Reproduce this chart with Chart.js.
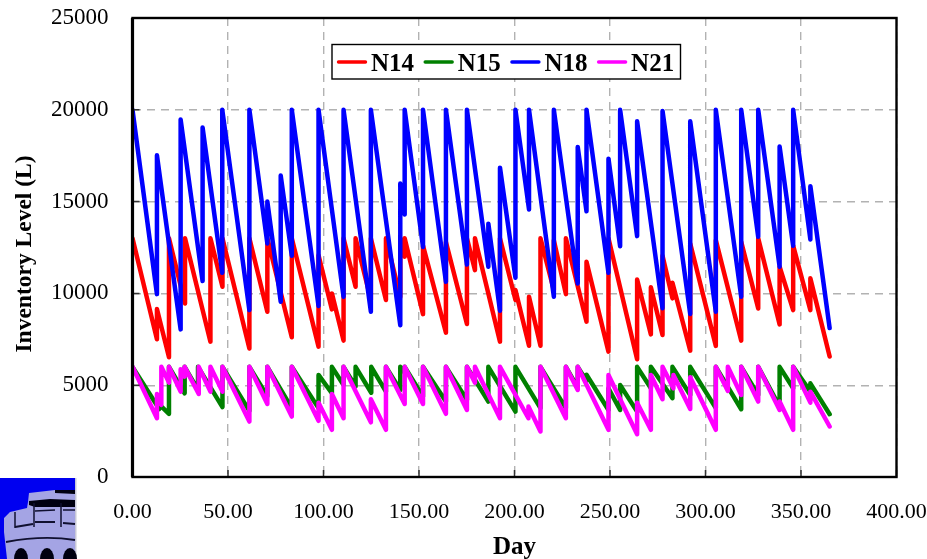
<!DOCTYPE html>
<html>
<head>
<meta charset="utf-8">
<title>Inventory Level</title>
<script src="https://cdn.jsdelivr.net/npm/chart.js@4"></script>
<style>
    html, body { margin: 0; padding: 0; background: #fff; }
    canvas { display: block; }
</style>
</head>
<body>
<canvas id="myChart" width="927" height="559"></canvas>
<script>
// Values: each refill shows up as the same day twice (low, then high)
const xTicks = [0, 50, 100, 150, 200, 250, 300, 350, 400];
const yTicks = [0, 5000, 10000, 15000, 20000, 25000];
const seriesNames = ['N14', 'N15', 'N18', 'N21'];
const seriesColors = ['#ff0000', '#008000', '#0000ff', '#ff00ff'];

const n14Days = [0, 12.8, 12.8, 19.1, 19.1, 27.5, 27.5, 40.8, 40.8, 47.1, 47.1, 61.2, 61.2, 70.6, 70.6, 83.4, 83.4, 97.4, 97.4, 104.4, 104.4, 110.5, 110.5, 116.8, 116.8, 124.8, 124.8, 132.7, 132.7, 140.2, 140.2, 142.5, 142.5, 152.1, 152.1, 164.1, 164.1, 175.1, 175.1, 179.3, 179.3, 192.4, 192.4, 200.5, 200.5, 207.6, 207.6, 213.6, 213.6, 220.6, 220.6, 226.9, 226.9, 237.7, 237.7, 249.2, 249.2, 264.2, 264.2, 271.4, 271.4, 277.5, 277.5, 282.7, 282.7, 292, 292, 305.4, 305.4, 318.7, 318.7, 327.6, 327.6, 338.8, 338.8, 345.9, 345.9, 354.9, 354.9, 365];
const n14Levels = [13000, 7500, 9150, 6520, 13000, 9450, 13000, 7370, 13000, 10360, 13000, 7000, 13000, 9000, 13000, 7610, 13000, 7100, 12080, 9130, 10000, 7430, 13000, 10360, 13000, 9650, 13000, 9640, 13000, 9800, 13000, 12000, 13000, 8870, 12600, 7860, 12800, 8330, 13000, 11270, 13000, 7370, 13000, 9640, 10180, 7150, 9820, 7150, 13000, 10180, 12900, 9960, 13000, 8460, 11720, 6830, 13000, 6410, 10760, 7770, 10330, 7730, 12050, 9730, 10580, 6880, 12720, 7140, 12900, 7430, 12810, 9180, 13000, 8310, 11450, 9090, 12600, 9090, 10820, 6560];

const n15Days = [0, 14, 14, 19.1, 19.1, 27.3, 27.3, 34.3, 34.3, 47.1, 47.1, 61.2, 61.2, 70.6, 70.6, 83.4, 83.4, 97.4, 97.4, 104.4, 104.4, 110.5, 110.5, 116.8, 116.8, 125, 125, 132.7, 132.7, 140.2, 140.2, 142.5, 142.5, 152.1, 152.1, 164.1, 164.1, 175.1, 175.1, 186.3, 186.3, 200.5, 200.5, 213.6, 213.6, 226.9, 226.9, 233.1, 233.1, 237.7, 237.7, 249.2, 249.2, 255.3, 255.3, 264.2, 264.2, 271.4, 271.4, 282.7, 282.7, 292, 292, 305.4, 305.4, 318.7, 318.7, 327.6, 327.6, 338.8, 338.8, 345.9, 345.9, 354.9, 354.9, 365];
const n15Levels = [6000, 3700, 3950, 3440, 6000, 4560, 6000, 4740, 6000, 3810, 6000, 3600, 6000, 4400, 6000, 3750, 6000, 3750, 5560, 4560, 6000, 5010, 6000, 4930, 6000, 4590, 6000, 4650, 6000, 4740, 6000, 5700, 6000, 4380, 6000, 4110, 6000, 4200, 6000, 4110, 6000, 3560, 6000, 3750, 6000, 3750, 6000, 4870, 6000, 5240, 5570, 3650, 4830, 3650, 5010, 3560, 6000, 4830, 6000, 4290, 6000, 4470, 6000, 3750, 6000, 3690, 6000, 4470, 6000, 3840, 6000, 4830, 6000, 4650, 5100, 3420];

const n18Days = [0, 12.8, 12.8, 25.2, 25.2, 36.7, 36.7, 47, 47, 61.2, 61.2, 70.6, 70.6, 77.6, 77.6, 83.4, 83.4, 97.4, 97.4, 110.5, 110.5, 124.8, 124.8, 140.2, 140.2, 142.5, 142.5, 152.1, 152.1, 164.1, 164.1, 175.1, 175.1, 186.3, 186.3, 192.4, 192.4, 200.5, 200.5, 207.6, 207.6, 220.6, 220.6, 233.1, 233.1, 237.7, 237.7, 249.2, 249.2, 255.3, 255.3, 264.2, 264.2, 277.5, 277.5, 292, 292, 305.4, 305.4, 318.7, 318.7, 327.6, 327.6, 338.8, 338.8, 345.9, 345.9, 354.9, 354.9, 365];
const n18Levels = [20000, 9960, 17520, 8040, 19470, 10670, 19030, 11120, 20000, 9090, 20000, 12720, 15000, 9550, 16420, 12050, 20000, 9310, 20000, 9820, 20000, 9000, 20000, 8270, 15980, 14300, 20000, 12530, 20000, 10630, 20000, 11570, 20000, 11450, 13800, 9060, 16850, 10850, 20000, 14570, 20000, 9820, 20000, 10540, 17980, 14470, 20000, 11120, 17340, 12570, 20000, 13120, 19370, 9190, 19940, 8880, 19370, 9000, 20000, 9820, 20000, 13080, 20000, 11450, 18000, 12590, 20000, 12940, 15840, 8110];

const n21Days = [0, 12.8, 12.8, 15.1, 15.1, 19.1, 19.1, 25.2, 25.2, 27.3, 27.3, 34.7, 34.7, 40.8, 40.8, 47.1, 47.1, 61.2, 61.2, 70.6, 70.6, 83.4, 83.4, 97.4, 97.4, 104.4, 104.4, 110.5, 110.5, 124.8, 124.8, 132.7, 132.7, 142.5, 142.5, 152.1, 152.1, 164.1, 164.1, 175.1, 175.1, 179.3, 179.3, 192.4, 192.4, 207.3, 207.3, 213.6, 213.6, 226.9, 226.9, 233.1, 233.1, 249.2, 249.2, 264.2, 264.2, 271.4, 271.4, 277.5, 277.5, 283.2, 283.2, 292, 292, 305.4, 305.4, 311.7, 311.7, 318.7, 318.7, 327.6, 327.6, 338.8, 338.8, 345.9, 345.9, 354.9, 354.9, 365];
const n21Levels = [6000, 3200, 4520, 3930, 6000, 5140, 6000, 4650, 5870, 5470, 6000, 4520, 6000, 4650, 6000, 4650, 6000, 3020, 6000, 3980, 6000, 3290, 6000, 3060, 4050, 2570, 4520, 3200, 6000, 2980, 4240, 2570, 6000, 3980, 6000, 3980, 6000, 3440, 6000, 3650, 6000, 5140, 6000, 3200, 6000, 3200, 3840, 2480, 6000, 3200, 6000, 4740, 6000, 2570, 5560, 2330, 4050, 2570, 5560, 4240, 6000, 4830, 5560, 3710, 5430, 2570, 6000, 4690, 6000, 4470, 6000, 4110, 6000, 3650, 4110, 2570, 6000, 4050, 4650, 2750];

const allDays = [n14Days, n15Days, n18Days, n21Days];
const allLevels = [n14Levels, n15Levels, n18Levels, n21Levels];

const serif = '"Liberation Serif", "Times New Roman", serif';

// Black box round the plot, short ticks inside it, and the boxed legend
const framePlugin = {
    id: 'frame',
    afterDatasetsDraw(chart) {
        const { ctx, chartArea: area, scales } = chart;
        ctx.save();

        // inner tick marks
        ctx.strokeStyle = '#333';
        ctx.lineWidth = 1.5;
        ctx.beginPath();
        for (const v of yTicks) {
            const y = scales.y.getPixelForValue(v);
            ctx.moveTo(area.left, y);
            ctx.lineTo(area.left + 7, y);
        }
        for (const v of xTicks) {
            const x = scales.x.getPixelForValue(v);
            ctx.moveTo(x, area.bottom);
            ctx.lineTo(x, area.bottom - 7);
        }
        ctx.stroke();

        // frame
        ctx.strokeStyle = '#000';
        ctx.lineWidth = 2.4;
        ctx.strokeRect(area.left, area.top, area.right - area.left, area.bottom - area.top);
        ctx.beginPath();
        ctx.lineWidth = 3.2;
        ctx.moveTo(area.left, area.top);
        ctx.lineTo(area.left, area.bottom);
        ctx.stroke();

        // legend box
        ctx.fillStyle = '#fff';
        ctx.fillRect(332, 44.5, 348.5, 34.5);
        ctx.strokeStyle = '#000';
        ctx.lineWidth = 1.4;
        ctx.strokeRect(332, 44.5, 348.5, 34.5);
        ctx.font = 'bold 25px ' + serif;
        ctx.textAlign = 'left';
        ctx.textBaseline = 'alphabetic';
        ctx.lineCap = 'round';
        chart.data.datasets.forEach((ds, i) => {
            const x0 = 338.5 + i * 86.7;
            ctx.strokeStyle = ds.borderColor;
            ctx.lineWidth = 3.4;
            ctx.beginPath();
            ctx.moveTo(x0, 62);
            ctx.lineTo(x0 + 27, 62);
            ctx.stroke();
            ctx.fillStyle = '#000';
            ctx.fillText(ds.label, x0 + 32.5, 71);
        });
        ctx.restore();
    }
};

// Tower logo in the bottom left corner
const logoPlugin = {
    id: 'logo',
    afterDraw(chart) {
        const ctx = chart.ctx;
        const poly = (pts, color) => {
            ctx.fillStyle = color;
            ctx.beginPath();
            pts.forEach((p, i) => (i ? ctx.lineTo(p[0], p[1]) : ctx.moveTo(p[0], p[1])));
            ctx.closePath();
            ctx.fill();
        };
        const line = (x1, y1, x2, y2, w) => {
            ctx.lineWidth = w;
            ctx.beginPath();
            ctx.moveTo(x1, y1);
            ctx.lineTo(x2, y2);
            ctx.stroke();
        };
        ctx.save();
        ctx.fillStyle = '#0000f0';
        ctx.fillRect(0, 478, 75, 81);
        ctx.fillStyle = '#c8c8d8';
        ctx.fillRect(75, 478, 1.5, 81);
        poly([[29, 493], [55, 490], [75, 490], [75, 559], [7, 559], [4, 532], [4, 518], [10, 512], [27, 508], [28, 502]], '#a4a4e4');
        poly([[55, 490], [75, 490], [75, 494], [55, 493]], '#000010');
        poly([[29, 501], [50, 499], [75, 500], [75, 507], [35, 507], [29, 505]], '#000010');
        ctx.strokeStyle = '#101030';
        line(15, 512, 15, 528, 1.5);
        line(34, 503, 34, 527, 1.5);
        line(61, 503, 61, 527, 1.5);
        line(15, 527, 33, 524, 2);
        line(35, 522, 55, 522, 2);
        line(63, 523, 75, 524, 2);
        line(35, 511, 55, 510, 1.5);
        line(63, 510, 75, 510, 1.5);
        ctx.beginPath();
        ctx.lineWidth = 1.8;
        ctx.moveTo(6, 542);
        ctx.quadraticCurveTo(43, 535, 75, 540);
        ctx.stroke();
        ctx.fillStyle = '#000010';
        for (const cx of [21, 47, 70]) {
            ctx.beginPath();
            ctx.ellipse(cx, 559, 7, 11, 0, 0, Math.PI * 2);
            ctx.fill();
        }
        ctx.restore();
    }
};

new Chart(document.getElementById('myChart').getContext('2d'), {
    type: 'scatter',
    data: {
        datasets: seriesNames.map((name, i) => ({
            label: name,
            data: allDays[i].map((d, j) => ({ x: d, y: allLevels[i][j] })),
            showLine: true,
            borderColor: seriesColors[i],
            backgroundColor: seriesColors[i],
            borderWidth: 4.5,
            borderJoinStyle: 'round',
            borderCapStyle: 'round',
            pointRadius: 0,
            tension: 0,
            order: seriesNames.length - i // later series sit on top
        }))
    },
    options: {
        responsive: false,
        animation: false,
        layout: { padding: { top: 18, right: 30.5 } },
        plugins: { legend: { display: false }, tooltip: { enabled: false } },
        scales: {
            x: {
                type: 'linear',
                min: xTicks[0],
                max: xTicks[xTicks.length - 1],
                afterFit(scale) {
                    scale.height = 82;
                    scale.paddingLeft = 0;
                    scale.paddingRight = 0;
                },
                afterBuildTicks(scale) {
                    scale.ticks = xTicks.map((v) => ({ value: v }));
                },
                border: { display: false, dash: [8, 6] },
                grid: { color: '#b2b2b2', lineWidth: 1.4, drawTicks: false },
                ticks: {
                    color: '#000',
                    padding: 22,
                    maxRotation: 0,
                    font: { family: serif, size: 22 },
                    callback: (v) => v.toFixed(2)
                },
                title: {
                    display: true,
                    text: 'Day',
                    color: '#000',
                    font: { family: serif, size: 25, weight: 'bold' },
                    padding: { top: 0, bottom: -4 }
                }
            },
            y: {
                min: yTicks[0],
                max: yTicks[yTicks.length - 1],
                afterFit(scale) {
                    scale.width = 132.5;
                    scale.paddingTop = 0;
                    scale.paddingBottom = 0;
                    // the title sits a little below the middle of the axis in the original
                    if (!scale.shiftedTitle) {
                        const drawTitle = scale.drawTitle.bind(scale);
                        scale.drawTitle = () => {
                            scale.ctx.save();
                            scale.ctx.translate(0, 6.5);
                            drawTitle();
                            scale.ctx.restore();
                        };
                        scale.shiftedTitle = true;
                    }
                },
                afterBuildTicks(scale) {
                    scale.ticks = yTicks.map((v) => ({ value: v }));
                },
                border: { display: false, dash: [8, 6] },
                grid: { color: '#b2b2b2', lineWidth: 1.4, drawTicks: false },
                ticks: {
                    color: '#000',
                    padding: 24,
                    font: { family: serif, size: 23 },
                    callback: (v) => String(v)
                },
                title: {
                    display: true,
                    text: 'Inventory Level (L)',
                    color: '#000',
                    font: { family: serif, size: 23.5, weight: 'bold' },
                    padding: { top: 11, bottom: 0 }
                }
            }
        }
    },
    plugins: [framePlugin, logoPlugin]
});
</script>
</body>
</html>
